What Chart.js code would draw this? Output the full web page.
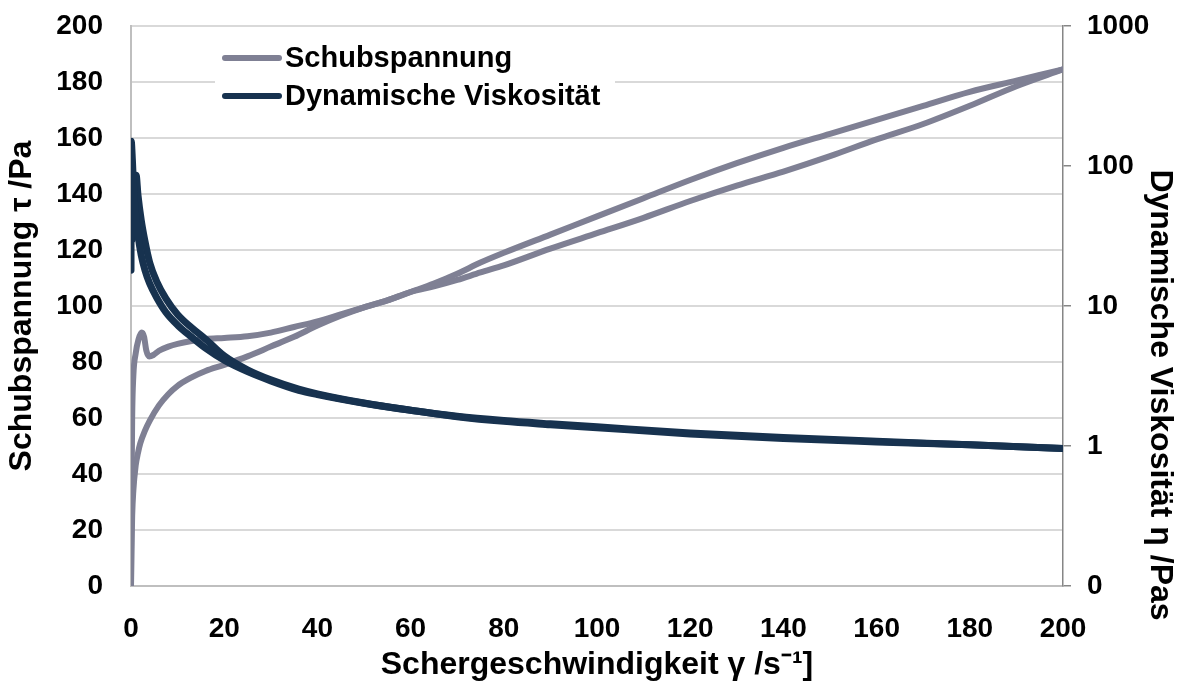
<!DOCTYPE html>
<html>
<head>
<meta charset="utf-8">
<script src="https://cdn.jsdelivr.net/npm/chart.js@4.4.0/dist/chart.umd.min.js"></script>
<style>
  html, body { margin: 0; padding: 0; background: #fff; }
</style>
</head>
<body>
<canvas id="chart" width="1183" height="682"></canvas>
<script>
// Schubspannung, Kurve mit Überschwinger bei kleiner Scherrate
const rateA = [0, 0.1, 0.25, 0.5, 1.0, 1.6, 2.3, 2.8, 3.3, 3.9, 4.8, 6, 8, 10, 13, 16, 20, 25, 30, 35, 40, 45, 50, 55, 60, 65, 70, 75, 80, 90, 100, 110, 120, 130, 140, 150, 160, 170, 180, 190, 200];
const tauA  = [0, 30, 60, 75, 83, 88, 90.5, 89, 84, 82, 82.5, 84, 85.5, 86.5, 87.5, 88.2, 88.6, 89.2, 90.5, 92.5, 94.5, 97, 99.5, 102, 105, 108, 111.5, 115.5, 119, 125.5, 132, 138.5, 145, 151, 156.5, 161.5, 166.5, 171.5, 176.5, 180.5, 184.5];

// Schubspannung, zweite Kurve
const rateB = [0, 0.1, 0.25, 0.5, 1, 1.5, 2, 3, 4, 6, 8, 10, 13, 16, 20, 25, 30, 35, 40, 45, 50, 55, 60, 65, 70, 75, 80, 90, 100, 110, 120, 130, 140, 150, 160, 170, 180, 190, 200];
const tauB  = [0, 12, 25, 34, 43, 47.5, 51, 55.5, 59, 64.5, 68.5, 71.5, 74.5, 76.8, 79, 82, 85.5, 89, 93, 96.5, 99.5, 102, 105, 107, 109.3, 112, 114.5, 120.5, 126, 131.5, 137.5, 143, 148, 153.5, 159.5, 165, 171.5, 178.5, 184.5];

// Dynamische Viskosität (log. Achse)
const rateV1 = [0, 0.05, 0.3, 0.6, 1.0, 1.5, 2.2, 3, 4, 5.5, 7.5, 10, 13, 16, 20, 25, 30, 36, 40, 50, 60, 70, 80, 90, 100, 120, 140, 160, 180, 200];
const etaV1  = [18, 150, 110, 65, 45, 32, 23, 18, 14.5, 11.5, 9, 7.3, 6.0, 5.0, 4.1, 3.4, 2.92, 2.5, 2.33, 2.02, 1.8, 1.62, 1.5, 1.42, 1.35, 1.22, 1.13, 1.07, 1.02, 0.96];
const rateV2 = [0.3, 0.6, 1.1, 1.5, 2.2, 3, 4, 5.5, 7.5, 10, 13, 16, 20, 25, 30, 36, 40, 50, 60, 70, 80, 90, 100, 120, 140, 160, 180, 200];
const etaV2  = [30, 55, 86, 62, 41, 29, 20.5, 15, 11.3, 8.7, 7.0, 5.8, 4.4, 3.5, 2.97, 2.55, 2.36, 2.03, 1.8, 1.63, 1.52, 1.44, 1.37, 1.24, 1.15, 1.08, 1.02, 0.96];

const xTicks = [0, 20, 40, 60, 80, 100, 120, 140, 160, 180, 200];
const etaTicks = [0.1, 1, 10, 100, 1000];

const GREY = "#7f8094";
const NAVY = "#17324f";
const FONT = "'Liberation Sans', Arial, sans-serif";

function pts(xs, ys) {
    return xs.map((x, i) => ({ x: x, y: ys[i] }));
}

function lineSet(label, xs, ys, color, axis, order, width) {
    return {
        label: label,
        data: pts(xs, ys),
        yAxisID: axis,
        borderColor: color,
        backgroundColor: color,
        borderWidth: width,
        borderCapStyle: "round",
        borderJoinStyle: "round",
        showLine: true,
        pointRadius: 0,
        cubicInterpolationMode: "monotone",
        order: order
    };
}

// fix the axis box sizes so the plot area sits where it does in the original
function fixBox(w) {
    return s => {
        s.width = w;
        s.paddingTop = 0;
        s.paddingBottom = 0;
    };
}

// legend inside the plot and the right axis title (placed lower than centre)
const extras = {
    id: "extras",
    afterDraw(chart) {
        const ctx = chart.ctx;
        ctx.save();
        ctx.fillStyle = "#fff";
        ctx.fillRect(215, 38, 400, 76);
        const rows = [["Schubspannung", GREY, 58], ["Dynamische Viskosität", NAVY, 96]];
        rows.forEach(r => {
            ctx.strokeStyle = r[1];
            ctx.lineWidth = 6;
            ctx.lineCap = "round";
            ctx.beginPath();
            ctx.moveTo(225, r[2]);
            ctx.lineTo(279, r[2]);
            ctx.stroke();
            ctx.fillStyle = "#000";
            ctx.font = "bold 29px " + FONT;
            ctx.textBaseline = "middle";
            ctx.fillText(r[0], 285, r[2] + 1);
        });

        ctx.font = "bold 32px " + FONT;
        ctx.fillStyle = "#000";
        ctx.textAlign = "center";
        ctx.textBaseline = "middle";
        ctx.translate(1160, 395);
        ctx.rotate(Math.PI / 2);
        ctx.fillText("Dynamische Viskosität η /Pas", 0, 0);
        ctx.restore();
    }
};

const tickFont = { family: FONT, size: 28, weight: "bold" };
const titleFont = { family: FONT, size: 32, weight: "bold", lineHeight: 1 };

new Chart(document.getElementById("chart"), {
    type: "scatter",
    data: {
        datasets: [
            lineSet("Dynamische Viskosität", rateV1, etaV1, NAVY, "y2", 1, 7),
            lineSet("Dynamische Viskosität", rateV2, etaV2, NAVY, "y2", 1, 7),
            lineSet("Schubspannung", rateA, tauA, GREY, "y", 2, 6),
            lineSet("Schubspannung", rateB, tauB, GREY, "y", 2, 6)
        ]
    },
    options: {
        responsive: false,
        animation: false,
        layout: { padding: { top: 26, left: 0, right: 0, bottom: 0 } },
        plugins: {
            legend: { display: false },
            tooltip: { enabled: false }
        },
        scales: {
            x: {
                type: "linear",
                min: 0,
                max: 200,
                afterBuildTicks: s => { s.ticks = xTicks.map(v => ({ value: v })); },
                afterFit: s => { s.height = 96; s.paddingLeft = 0; s.paddingRight = 0; },
                grid: { display: false },
                border: { display: true, color: "#bfbfbf", width: 2 },
                ticks: { font: tickFont, color: "#000", padding: 18, maxRotation: 0 },
                title: { display: true, text: "Schergeschwindigkeit γ /s⁻¹]", font: titleFont, color: "#000", padding: { bottom: 1 } }
            },
            y: {
                position: "left",
                min: 0,
                max: 200,
                afterFit: fixBox(131),
                grid: { color: "#d9d9d9", lineWidth: 2, drawTicks: false },
                border: { display: true, color: "#bfbfbf", width: 2 },
                ticks: { stepSize: 20, font: tickFont, color: "#000", padding: 28 },
                title: { display: true, text: "Schubspannung τ /Pa", font: titleFont, color: "#000", padding: { top: 6 } }
            },
            y2: {
                type: "logarithmic",
                position: "right",
                min: 0.1,
                max: 1000,
                afterBuildTicks: s => { s.ticks = etaTicks.map(v => ({ value: v })); },
                afterFit: fixBox(120),
                grid: { drawOnChartArea: false, drawTicks: true, tickLength: 8, color: "#868686", lineWidth: 1.5 },
                border: { display: true, color: "#868686", width: 1.5 },
                ticks: {
                    font: tickFont,
                    color: "#000",
                    padding: 16,
                    callback: v => (v < 1 ? "0" : String(v))
                }
            }
        }
    },
    plugins: [extras]
});
</script>
</body>
</html>
